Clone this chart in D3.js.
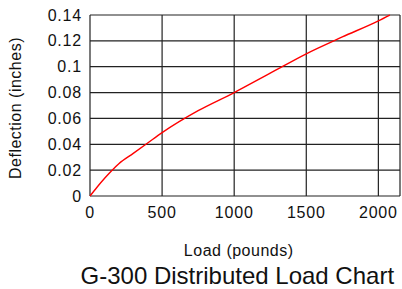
<!DOCTYPE html>
<html>
<head>
<meta charset="utf-8">
<script src="https://cdn.jsdelivr.net/npm/d3@7"></script>
<style>
  html, body { margin: 0; padding: 0; background: #fff; }
  svg { display: block; font-family: "Liberation Sans", Arial, sans-serif; }
</style>
</head>
<body>
<svg id="chart" width="402" height="289"></svg>
<script>
  // load in pounds, deflection in inches
  const loads = [0, 50, 100, 150, 200, 300, 400, 500, 750, 1000, 1250, 1500, 1750, 2000, 2080];
  const deflections = [0, 0.007, 0.0135, 0.0195, 0.025, 0.033, 0.041, 0.049, 0.066, 0.08, 0.095, 0.11, 0.123, 0.1355, 0.14];
  const xTicks = [0, 500, 1000, 1500, 2000];
  const yTicks = [0, 0.02, 0.04, 0.06, 0.08, 0.1, 0.12, 0.14];

  const svg = d3.select("#chart");
  const plotL = 90, plotR = 400, plotT = 15, plotB = 196;

  const x = d3.scaleLinear().domain([0, 2150]).range([plotL, plotR]);
  const y = d3.scaleLinear().domain([0, 0.14]).range([plotB, plotT]);

  const grid = svg.append("g").attr("stroke", "#222").attr("stroke-width", 1.2);

  grid.selectAll("line.h").data(yTicks).enter().append("line")
    .attr("x1", plotL).attr("x2", plotR)
    .attr("y1", d => y(d)).attr("y2", d => y(d));

  grid.selectAll("line.v").data(xTicks.concat([2150])).enter().append("line")
    .attr("y1", plotT).attr("y2", plotB)
    .attr("x1", d => x(d)).attr("x2", d => x(d));

  svg.append("g").selectAll("text").data(yTicks).enter().append("text")
    .attr("x", plotL - 8).attr("y", d => y(d) + 5.5)
    .attr("text-anchor", "end")
    .attr("font-size", 16).attr("letter-spacing", 0.8)
    .attr("fill", "#111")
    .text(d => d);

  svg.append("g").selectAll("text").data(xTicks).enter().append("text")
    .attr("x", d => x(d)).attr("y", 218)
    .attr("text-anchor", "middle")
    .attr("font-size", 16).attr("letter-spacing", 0.8)
    .attr("fill", "#111")
    .text(d => d);

  const line = d3.line()
    .x((d, i) => x(loads[i]))
    .y(d => y(d))
    .curve(d3.curveMonotoneX);

  svg.append("path")
    .attr("d", line(deflections))
    .attr("fill", "none")
    .attr("stroke", "#ff0000")
    .attr("stroke-width", 1.4);

  svg.append("text")
    .attr("x", 238.7).attr("y", 256)
    .attr("text-anchor", "middle")
    .attr("font-size", 16).attr("letter-spacing", 0.5)
    .attr("fill", "#111")
    .text("Load (pounds)");

  svg.append("text")
    .attr("transform", "translate(21,108) rotate(-90)")
    .attr("text-anchor", "middle")
    .attr("font-size", 16).attr("letter-spacing", 0.5)
    .attr("fill", "#111")
    .text("Deflection (inches)");

  svg.append("text")
    .attr("x", 237.3).attr("y", 284)
    .attr("text-anchor", "middle")
    .attr("font-size", 24)
    .attr("fill", "#111")
    .text("G-300 Distributed Load Chart");
</script>
</body>
</html>
